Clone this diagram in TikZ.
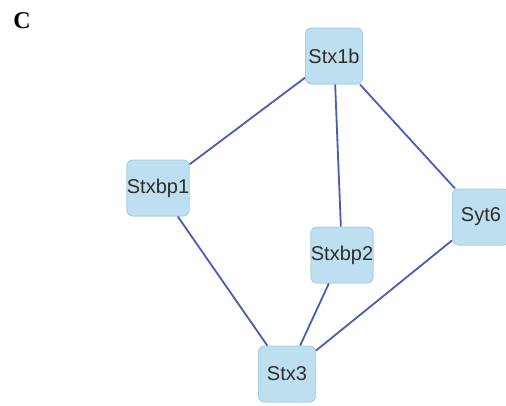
\documentclass[tikz,border=0pt]{standalone}
\usepackage{fontspec}
\setmainfont{Liberation Serif}
\newfontfamily\boxfont{Liberation Sans}
\definecolor{boxfill}{HTML}{BEDFF0}
\definecolor{boxline}{HTML}{A9CFE4}
\definecolor{edgecol}{HTML}{4A5DB3}
\definecolor{txtcol}{HTML}{2E2E2E}
\begin{document}
\begin{tikzpicture}[x=1pt,y=-1pt,
  genebox/.style={draw=boxline,line width=1pt,fill=boxfill,rounded corners=6pt,
    minimum width=57pt,minimum height=56pt,inner sep=0pt,
    font=\boxfont\fontsize{20}{24}\selectfont,text=txtcol},
  link/.style={draw=edgecol,line width=1.8pt}]
\useasboundingbox (0,0) rectangle (506,405);
\node[font=\bfseries\fontsize{24}{28}\selectfont] (lbl) at (22,21) {C};
\node[genebox] (stx1b) at (334,56) {Stx1b};
\node[genebox] (stxbp1) at (158,188) {Stxbp1};
\node[genebox] (stxbp2) at (342,255) {Stxbp2};
\node[genebox] (syt6) at (481,217) {Syt6};
\node[genebox] (stx3) at (287,374) {Stx3};
\path[link] (stx1b) -- (stxbp1);
\path[link] (stx1b) -- (stxbp2);
\path[link] (stx1b) -- (syt6);
\path[link] (stxbp1) -- (stx3);
\path[link] (stxbp2) -- (stx3);
\path[link] (syt6) -- (stx3);
\end{tikzpicture}
\end{document}
